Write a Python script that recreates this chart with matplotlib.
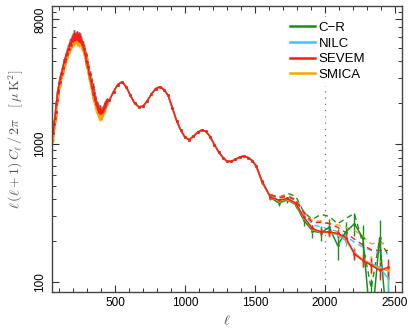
import numpy as np
import matplotlib
matplotlib.use("Agg")
import matplotlib.pyplot as plt
from matplotlib.ticker import FixedLocator, NullFormatter
from matplotlib.lines import Line2D

plt.rcParams['font.family'] = ['Liberation Sans', 'DejaVu Sans']
plt.rcParams['mathtext.fontset'] = 'cm'

# ---------------- data ----------------
methods = ["C\u2212R", "NILC", "SEVEM", "SMICA"]
colors = {"C\u2212R": "#1f8c1f", "NILC": "#33c6ff", "SEVEM": "#ff1a1a", "SMICA": "#ffa500"}

ell_lo = list(range(60, 445, 5))
dl_lo_sevem = [1200, 1400, 1550, 1700, 1950, 2100, 2400, 2450, 2750, 2800, 3000, 3200,
               3300, 3550, 3600, 3900, 4100, 4000, 4400, 4500, 4600, 4900, 4850, 5300,
               5400, 5250, 5800, 5600, 6000, 5700, 6300, 5800, 6100, 5750, 6250, 5700,
               6150, 5600, 6000, 5500, 5600, 5300, 5250, 4900, 4850, 4500, 4400, 4000,
               3950, 3600, 3600, 3200, 3200, 2900, 2850, 2550, 2600, 2300, 2350, 2100,
               2150, 1950, 1950, 1800, 1850, 1700, 1800, 1680, 1720, 1700, 1760, 1780,
               1830, 1900, 1950, 2000, 2050]
dl_lo_smica = [1080, 1300, 1480, 1620, 1820, 2050, 2250, 2400, 2600, 2700, 2900, 3050,
               3200, 3350, 3500, 3700, 3850, 3950, 4150, 4300, 4450, 4600, 4750, 5000,
               5100, 5150, 5400, 5350, 5600, 5500, 5800, 5550, 5750, 5500, 5800, 5450,
               5700, 5350, 5600, 5200, 5300, 5000, 4950, 4650, 4550, 4250, 4150, 3800,
               3700, 3400, 3350, 3000, 3000, 2700, 2650, 2400, 2400, 2150, 2150, 1950,
               1980, 1800, 1800, 1680, 1680, 1580, 1620, 1560, 1600, 1600, 1650, 1700,
               1760, 1830, 1900, 1950, 2000]

ell_mid = [460, 490, 520, 550, 580, 610, 640, 670, 700, 730, 760, 790, 820, 850, 880,
           910, 940, 970, 1000, 1030, 1060, 1090, 1120, 1150, 1180, 1210, 1240, 1270,
           1300, 1330, 1360, 1390, 1420, 1450, 1480, 1510]
dl_mid = [2080, 2400, 2700, 2820, 2600, 2250, 1980, 1860, 1880, 2050, 2300, 2520, 2600,
          2480, 2250, 1820, 1480, 1260, 1120, 1075, 1140, 1220, 1265, 1235, 1130, 990,
          880, 800, 750, 750, 775, 805, 820, 800, 760, 690]

ell_hi = [1550, 1610, 1670, 1730, 1790, 1850, 1910, 1970, 2030, 2090, 2150, 2210,
          2270, 2330, 2390, 2450]
dl_hi = {
    "C\u2212R": [530, 410, 375, 395, 365, 280, 235, 228, 250, 185, 232, 265, 210, 45, 210, 40],
    "NILC":     [540, 413, 392, 402, 373, 292, 243, 230, 232, 220, 200, 165, 145, 137, 128, 107],
    "SEVEM":    [540, 415, 393, 404, 375, 295, 245, 232, 231, 226, 210, 160, 144, 133, 122, 128],
    "SMICA":    [538, 412, 390, 400, 372, 292, 243, 230, 230, 224, 206, 162, 146, 135, 125, 122],
}
err_hi = {
    "C\u2212R": [15, 15, 18, 20, 22, 25, 25, 28, 35, 40, 40, 50, 50, 60, 70, 80],
    "NILC":     [10, 10, 10, 12, 12, 12, 14, 15, 16, 16, 16, 15, 16, 17, 18, 20],
    "SEVEM":    [10, 10, 10, 12, 12, 12, 14, 15, 16, 16, 16, 15, 16, 17, 18, 20],
    "SMICA":    [10, 10, 10, 12, 12, 12, 14, 15, 16, 16, 16, 15, 16, 20, 18, 20],
}
err_lo_frac = 0.06
err_mid_frac = 0.015

ell_dash = [1610, 1670, 1730, 1790, 1850, 1910, 1970, 2030, 2090, 2150, 2210, 2270,
            2330, 2390, 2450]
dl_dash = {
    "C\u2212R": [430, 410, 440, 420, 320, 285, 310, 300, 265, 290, 315, 190, 90, 205, 157],
    "NILC":     [425, 405, 418, 390, 312, 260, 252, 242, 233, 215, 195, 180, 170, 165, 160],
    "SEVEM":    [430, 410, 420, 395, 320, 270, 272, 266, 250, 228, 205, 186, 172, 170, 170],
    "SMICA":    [432, 415, 425, 400, 325, 278, 278, 268, 260, 250, 238, 215, 190, 192, 190],
}

# ---------------- figure ----------------
fig = plt.figure(figsize=(4.15, 3.34), dpi=100)
ax = fig.add_axes([52/415, 42/334, 350/415, 286/334])

draw_order = ["C\u2212R", "NILC", "SMICA", "SEVEM"]
for m in draw_order:
    lo = dl_lo_smica if m == "SMICA" else dl_lo_sevem
    ell = np.array(ell_lo + ell_mid + ell_hi, dtype=float)
    dl = np.array(lo + dl_mid + dl_hi[m], dtype=float)
    err = np.concatenate([np.array(lo) * err_lo_frac,
                          np.array(dl_mid) * err_mid_frac,
                          np.array(err_hi[m], dtype=float)])
    ax.errorbar(ell, dl, yerr=err, fmt='-', color=colors[m], lw=1.1,
                elinewidth=1.0, capsize=0, marker='.', ms=2.0)

for m in draw_order:
    ax.plot(ell_dash, dl_dash[m], '--', color=colors[m], lw=1.0, dashes=(4, 3))

ax.axvline(2000, color='#777777', ls=(0, (1, 4)), lw=0.9, zorder=0)

ax.set_yscale('log')
ax.set_xlim(50, 2550)
ax.set_ylim(85, 10000)

ax.xaxis.set_major_locator(FixedLocator([500, 1000, 1500, 2000, 2500]))
ax.xaxis.set_minor_locator(FixedLocator(list(range(100, 2600, 100))))
ax.yaxis.set_major_locator(FixedLocator([100, 1000, 8000]))
ax.yaxis.set_minor_locator(FixedLocator([200, 300, 400, 500, 600, 700, 800, 900,
                                         2000, 3000, 4000, 5000, 6000, 7000, 9000]))
ax.yaxis.set_minor_formatter(NullFormatter())
ax.set_yticklabels(["100", "1000", "8000"], rotation=90, va='center')
ax.tick_params(which='both', direction='in', top=True, right=True, labelsize=8.5, color='#333333')
ax.tick_params(which='major', length=5, width=0.8)
ax.tick_params(which='minor', length=3, width=0.7)
ax.tick_params(axis='y', pad=4)
for s in ax.spines.values():
    s.set_color('#444444')
    s.set_linewidth(1.0)

ax.set_xlabel(r'$\ell$', fontsize=10, color='#444444', labelpad=3)
ax.set_ylabel(r'$\ell\,(\ell+1)\,C_\ell\,/\,2\pi\quad[\,\mu\,\mathrm{K}^2]$', fontsize=10,
              color='#555555')
ax.yaxis.set_label_coords(-0.075, 0.535)

handles = [Line2D([], [], color=colors[m], lw=1.8) for m in methods]
leg = ax.legend(handles, methods, loc='upper right', fontsize=9.5, frameon=True,
                edgecolor='none', facecolor='white', framealpha=1,
                handlelength=1.9, handletextpad=0.3, labelspacing=0.25,
                borderaxespad=0.8, bbox_to_anchor=(0.94, 1.0))

fig.savefig('out.png', dpi=100)
